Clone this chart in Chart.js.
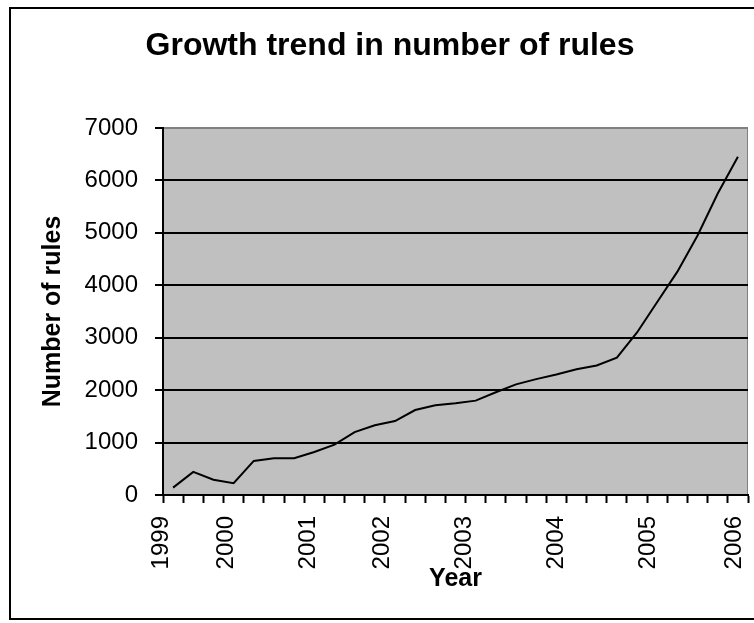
<!DOCTYPE html>
<html>
<head>
<title>Growth trend in number of rules</title>
<script src="https://cdn.jsdelivr.net/npm/chart.js"></script>
<style>
  body { margin: 0; background: #fff; overflow: hidden; }
  #wrap { position: relative; width: 754px; height: 623px; }
  #frame { position: absolute; left: 9px; top: 7px; width: 800px; height: 609px; border: 2px solid #000; pointer-events: none; }
</style>
</head>
<body>
<div id="wrap">
  <canvas id="chart" width="754" height="623"></canvas>
  <div id="frame"></div>
</div>
<script>
// number of rules at each sample, left to right
var rules = [140, 440, 290, 225, 650, 700, 700, 820, 960, 1200,
             1330, 1410, 1620, 1710, 1750, 1800, 1960, 2110, 2210, 2300,
             2400, 2470, 2620, 3100, 3680, 4260, 4950, 5750, 6450];

// year labels and where they sit along the sample index
var yearLabels = ['1999', '2000', '2001', '2002', '2003', '2004', '2005', '2006'];
var yearTickPos = [-0.56, 2.66, 6.70, 10.36, 14.45, 19.02, 23.58, 27.8];

var yMax = 7000;
var yStep = 1000;

var fam = "'Liberation Sans', Arial, sans-serif";

// grey plot area like the old excel chart
var plotBg = {
    id: 'plotBg',
    beforeDraw: function (chart) {
        var a = chart.chartArea, ctx = chart.ctx;
        ctx.save();
        ctx.fillStyle = '#c0c0c0';
        ctx.fillRect(a.left, a.top, a.right - a.left, a.bottom - a.top);
        ctx.strokeStyle = '#808080';
        ctx.lineWidth = 1;
        ctx.strokeRect(a.left + 0.5, a.top + 0.5, a.right - a.left - 1, a.bottom - a.top - 1);
        ctx.restore();
    }
};

var ctx = document.getElementById('chart').getContext('2d');
new Chart(ctx, {
    type: 'line',
    data: {
        datasets: [{
            label: 'Number of rules',
            data: rules.map(function (v, i) { return { x: i, y: v }; }),
            borderColor: '#000',
            borderWidth: 2,
            pointRadius: 0,
            tension: 0,
            fill: false
        }]
    },
    options: {
        responsive: false,
        animation: false,
        layout: { padding: { left: 32, right: 6, top: 0, bottom: 0 } },
        plugins: {
            legend: { display: false },
            tooltip: { enabled: false },
            title: {
                display: true,
                text: 'Growth trend in number of rules',
                color: '#000',
                font: { family: fam, size: 32, weight: 'bold' },
                padding: { top: 27, bottom: 62.6 }
            }
        },
        scales: {
            x: {
                type: 'linear',
                min: -0.5,
                max: rules.length - 0.5,
                afterBuildTicks: function (scale) {
                    var ticks = [];
                    for (var i = 0; i <= rules.length; i++) ticks.push({ value: i - 0.5 });
                    yearLabels.forEach(function (y, k) {
                        ticks.push({ value: yearTickPos[k], year: y });
                    });
                    scale.ticks = ticks;
                },
                afterFit: function (scale) {
                    scale.height = 128;
                    scale.paddingLeft = 0;
                    scale.paddingRight = 0;
                },
                ticks: {
                    autoSkip: false,
                    minRotation: 90,
                    maxRotation: 90,
                    padding: 13,
                    color: '#000',
                    font: { family: fam, size: 24 },
                    callback: function (v, i, ticks) { return ticks[i].year || ''; }
                },
                grid: {
                    drawOnChartArea: false,
                    tickLength: 8,
                    tickWidth: 2,
                    tickColor: function (c) {
                        return c.tick && c.tick.year ? 'rgba(0,0,0,0)' : '#000';
                    }
                },
                border: { color: '#000', width: 2 },
                title: {
                    display: true,
                    text: 'Year',
                    color: '#000',
                    font: { family: fam, size: 25, weight: 'bold' },
                    padding: { top: 29, bottom: 29 }
                }
            },
            y: {
                min: 0,
                max: yMax,
                afterFit: function (scale) {
                    scale.width = 131;
                    scale.paddingTop = 0;
                    scale.paddingBottom = 0;
                },
                ticks: {
                    stepSize: yStep,
                    padding: 17,
                    color: '#000',
                    font: { family: fam, size: 24 },
                    callback: function (v) { return String(v); }
                },
                grid: {
                    color: function (c) { return c.tick && c.tick.value === yMax ? '#808080' : '#000'; },
                    lineWidth: 2,
                    tickLength: 8,
                    tickWidth: 2,
                    tickColor: '#000'
                },
                border: { color: '#000', width: 2 },
                title: {
                    display: true,
                    text: 'Number of rules',
                    color: '#000',
                    font: { family: fam, size: 25, weight: 'bold' },
                    padding: { top: 6, bottom: 0 }
                }
            }
        }
    },
    plugins: [plotBg]
});
</script>
</body>
</html>
